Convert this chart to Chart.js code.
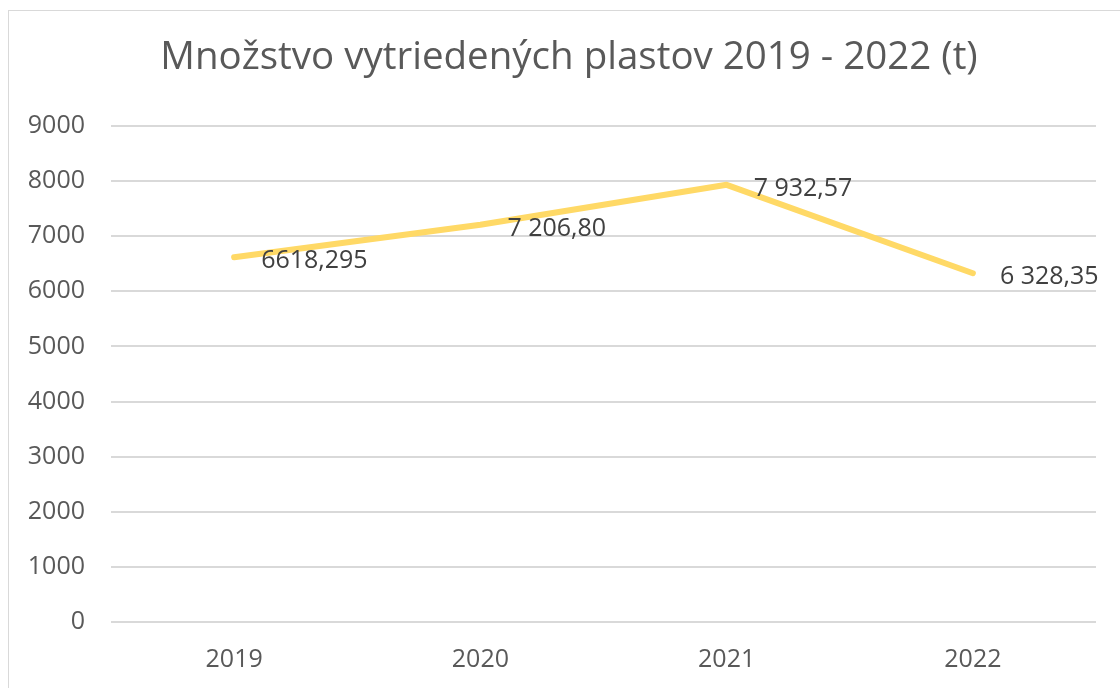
<!DOCTYPE html>
<html>
<head>
<meta charset="utf-8">
<script src="https://cdn.jsdelivr.net/npm/chart.js@4"></script>
<style>
	html, body { margin: 0; padding: 0; background: #fff; }
	#wrap { position: relative; width: 1120px; height: 688px; overflow: hidden; }
	#frame { position: absolute; left: 8px; top: 10px; width: 1200px; height: 800px; border: 1px solid #d9d9d9; }
	#chart { position: absolute; left: 0; top: 0; }
</style>
</head>
<body>
<div id="wrap">
	<div id="frame"></div>
	<canvas id="chart" width="1120" height="688"></canvas>
</div>
<script>
( function () {
	'use strict';

	var years = [ '2019', '2020', '2021', '2022' ];
	var tons = [ 6618.295, 7206.80, 7932.57, 6328.35 ];
	var valueLabels = [ '6618,295', '7 206,80', '7 932,57', '6 328,35' ];
	var yTicks = [ 0, 1000, 2000, 3000, 4000, 5000, 6000, 7000, 8000, 9000 ];
	var title = 'Množstvo vytriedených plastov 2019 - 2022 (t)';

	var font = '"Open Sans", "Noto Sans", sans-serif';

	// title sits a bit right of the canvas centre, as in the Excel original
	var chartTitle = {
		id: 'chartTitle',
		beforeDraw: function ( chart ) {
			var ctx = chart.ctx;
			ctx.save();
			ctx.font = '38.5px ' + font;
			ctx.fillStyle = '#595959';
			ctx.textAlign = 'center';
			ctx.textBaseline = 'middle';
			ctx.fillText( title, 569, 58 );
			ctx.restore();
		},
	};

	// draws the value next to each point, like Excel's "right" data labels
	var pointLabels = {
		id: 'pointLabels',
		afterDatasetsDraw: function ( chart ) {
			var ctx = chart.ctx;
			var meta = chart.getDatasetMeta( 0 );
			ctx.save();
			ctx.font = '25px ' + font;
			ctx.fillStyle = '#404040';
			ctx.textAlign = 'left';
			ctx.textBaseline = 'middle';
			meta.data.forEach( function ( pt, i ) {
				ctx.fillText( valueLabels[ i ], pt.x + 27, pt.y + 4 );
			} );
			ctx.restore();
		},
	};

	new Chart( document.getElementById( 'chart' ).getContext( '2d' ), {
		type: 'line',
		data: {
			labels: years,
			datasets: [ {
				data: tons,
				borderColor: 'rgb(255,217,102)',
				borderWidth: 6,
				borderCapStyle: 'round',
				borderJoinStyle: 'round',
				pointRadius: 0,
				tension: 0,
			} ],
		},
		options: {
			responsive: false,
			animation: false,
			layout: { padding: { left: 0, right: 24, top: 126, bottom: 13 } },
			plugins: {
				legend: { display: false },
				tooltip: { enabled: false },
				title: { display: false },
			},
			scales: {
				x: {
					offset: true,
					afterFit: function ( scale ) { scale.height = 53; },
					border: { display: false },
					grid: { display: false, drawTicks: false },
					ticks: { color: '#595959', padding: 23, font: { family: font, size: 25 } },
				},
				y: {
					min: 0,
					max: 9000,
					afterFit: function ( scale ) { scale.width = 111; },
					afterBuildTicks: function ( scale ) {
						scale.ticks = yTicks.map( function ( v ) { return { value: v }; } );
					},
					border: { display: false },
					grid: { color: '#d9d9d9', lineWidth: 2, drawTicks: false },
					ticks: {
						color: '#595959',
						padding: 26,
						font: { family: font, size: 25 },
						callback: function ( v ) { return String( v ); },
					},
				},
			},
		},
		plugins: [ chartTitle, pointLabels ],
	} );
} )();
</script>
</body>
</html>
